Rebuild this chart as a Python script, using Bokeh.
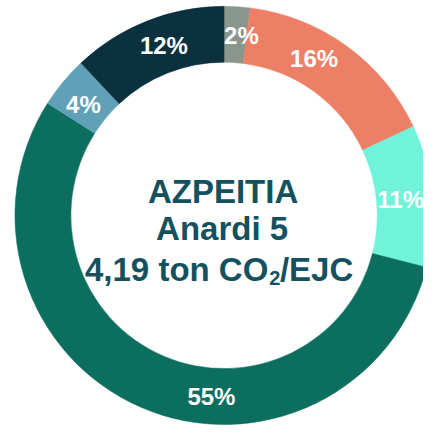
import math
from bokeh.plotting import figure
from bokeh.models import Range1d, ColumnDataSource
from bokeh.core.properties import value
from bokeh.embed import file_html
from bokeh.resources import INLINE

# ---- data (clockwise from 12 o'clock) ----
categories = ["A", "B", "C", "D", "E", "F"]
shares = [2, 16, 11, 55, 4, 12]
colors = ["#8A958D", "#EE7F67", "#70F3DA", "#0C6E5E", "#61A1B8", "#0B313F"]
labels = ["2%", "16%", "11%", "55%", "4%", "12%"]
title_lines = ["AZPEITIA", "Anardi 5"]
value_line = ["4,19 ton CO", "2", "/EJC"]

# label placement (degrees clockwise from top, radius), as in the reference
label_angles = [5.5, 29.8, 85.0, 184.0, 308.3, 340.5]
label_radii = [188, 188, 184, 188, 186, 187]

W, H = 423, 425
# data units = reference pixels; donut centre at the origin
p = figure(width=W, height=H, output_backend="svg", toolbar_location=None,
           x_range=Range1d(-232, 207), y_range=Range1d(-218, 223),
           min_border=0, outline_line_color=None)
p.axis.visible = False
p.grid.visible = False
p.background_fill_color = "white"
p.border_fill_color = "white"

total = float(sum(shares))
starts, ends = [], []
acc = 0.0
for s in shares:
    a0 = acc / total
    acc += s
    a1 = acc / total
    starts.append(math.pi / 2 - a0 * 2 * math.pi)
    ends.append(math.pi / 2 - a1 * 2 * math.pi)

src = ColumnDataSource(dict(cat=categories, start=starts, end=ends, color=colors))
p.annular_wedge(x=0, y=0, inner_radius=159, outer_radius=217,
                start_angle="start", end_angle="end", direction="clock",
                fill_color="color", line_color="color", line_width=0.5, source=src)

lx = [r * math.sin(math.radians(a)) for a, r in zip(label_angles, label_radii)]
ly = [r * math.cos(math.radians(a)) for a, r in zip(label_angles, label_radii)]
p.text(x=lx, y=ly, text=labels, text_color="white", text_font=value("Liberation Sans"),
       text_font_style="bold", text_font_size="24px", text_align="center",
       text_baseline="middle")

FONT = value("Liberation Sans")
TCOL = "#14515F"
p.text(x=[-1, -2], y=[223 - 198, 223 - 237], text=title_lines, text_color=TCOL,
       text_font=FONT, text_font_style="bold", text_font_size="33px",
       text_align="center", text_baseline="alphabetic")

# third line with subscript
base3 = 223 - 279
xa = 278 - 232
p.text(x=[xa], y=[base3], text=[value_line[0]], text_color=TCOL, text_font=FONT,
       text_font_style="bold", text_font_size="33px", text_align="right",
       text_baseline="alphabetic")
p.text(x=[xa + 1], y=[base3 - 9], text=[value_line[1]], text_color=TCOL, text_font=FONT,
       text_font_style="bold", text_font_size="20px", text_align="left",
       text_baseline="alphabetic")
p.text(x=[xa + 12], y=[base3], text=[value_line[2]], text_color=TCOL, text_font=FONT,
       text_font_style="bold", text_font_size="33px", text_align="left",
       text_baseline="alphabetic")

open("out.html", "w").write(file_html(p, INLINE))
